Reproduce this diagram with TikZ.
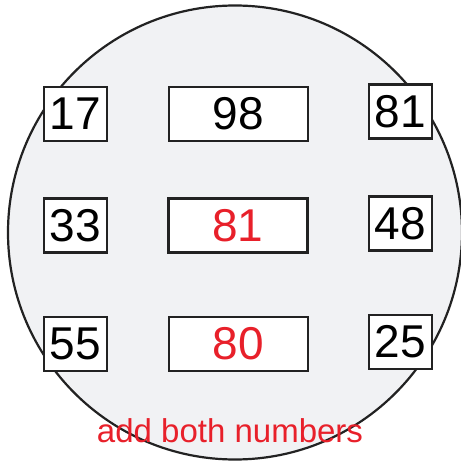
\documentclass[tikz,border=0pt]{standalone}
\usepackage{fontspec}
\setmainfont{Liberation Sans}
\definecolor{bgfill}{HTML}{F1F2F4}
\definecolor{redtxt}{HTML}{E8202A}
\definecolor{edge}{HTML}{222222}
\begin{document}
\begin{tikzpicture}[x=1pt,y=-1pt,
  numbox/.style={draw=edge,line width=2.6pt,fill=white,inner sep=0pt,font=\fontsize{46}{46}\selectfont},
  smallbox/.style={numbox,minimum width=63pt,minimum height=54pt},
  widebox/.style={numbox,minimum width=139pt,minimum height=54pt}]
\useasboundingbox (0,0) rectangle (461,461);
\node[draw=edge,line width=2.2pt,fill=bgfill,circle,minimum size=454pt,inner sep=0pt] (disc) at (235,232.5) {};
\node[smallbox] (a1) at (75.5,114) {17};
\node[widebox] (b1) at (238.5,114) {98};
\node[smallbox] (c1) at (400.5,111.5) {81};
\node[smallbox] (a2) at (75.5,225.5) {33};
\node[widebox,text=redtxt] (b2) at (238,225.5) {81};
\node[smallbox] (c2) at (400.5,223.5) {48};
\node[smallbox] (a3) at (75.5,344) {55};
\node[widebox,text=redtxt] (b3) at (238.5,344) {80};
\node[smallbox] (c3) at (400.5,342) {25};
\node[text=redtxt,font=\fontsize{33}{33}\selectfont,inner sep=0pt] (note) at (230,431) {add both numbers};
\end{tikzpicture}
\end{document}
